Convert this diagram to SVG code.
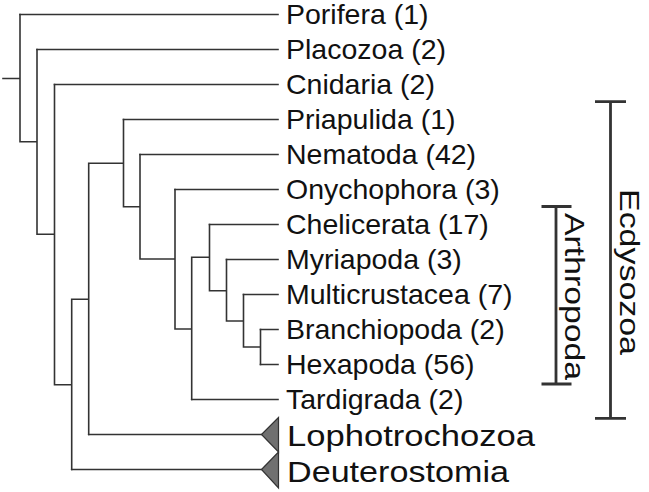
<svg xmlns="http://www.w3.org/2000/svg" width="649" height="492" viewBox="0 0 649 492">
<style>
.br{fill:none;stroke:#333;stroke-width:1.6;stroke-linecap:square}
.bk{fill:none;stroke:#333;stroke-width:2.8}
.lb{font-family:"Liberation Sans",Arial,sans-serif;font-size:28.5px;fill:#111}
.rt{font-family:"Liberation Sans",Arial,sans-serif;font-size:28px;fill:#111}
.big{font-family:"Liberation Sans",Arial,sans-serif;font-size:29.5px;fill:#111}
.cl{fill:#707070;stroke:#333;stroke-width:1.2}
</style>
<rect width="649" height="492" fill="#fff"/>
<g id="connectors">
<path class="br" d="M3,78.5H20M20,14.5V141.7H37M37,49.5V234.3H54.5M54.5,84.5V384.7H71.7M71.7,299.3V469.5M71.7,299.3H88.7M88.7,163.3V434.5M88.7,163.3H123.5M123.5,119.5V206.7H140M140,154.5V259H175M175,189.5V329H191.7M191.7,257.3V399.5M191.7,257.3H209.5M209.5,224.5V290.7H226.5M226.5,259.5V321H243.5M243.5,294.5V347H260.5M260.5,329.5V364.5"/>
<path class="br" d="M20,14.5H278M37,49.5H278M54.5,84.5H278M123.5,119.5H278M140,154.5H278M175,189.5H278M209.5,224.5H278M226.5,259.5H278M243.5,294.5H278M260.5,329.5H278M260.5,364.5H278M191.7,399.5H278M88.7,434.5H262M71.7,469.5H262"/>
</g>
<g id="porifera"><text class="lb" x="286" y="23.7">Porifera (1)</text></g>
<g id="placozoa"><text class="lb" x="286" y="58.7">Placozoa (2)</text></g>
<g id="cnidaria"><text class="lb" x="286" y="93.7">Cnidaria (2)</text></g>
<g id="priapulida"><text class="lb" x="286" y="128.7">Priapulida (1)</text></g>
<g id="nematoda"><text class="lb" x="286" y="163.7">Nematoda (42)</text></g>
<g id="onychophora"><text class="lb" x="286" y="198.7">Onychophora (3)</text></g>
<g id="chelicerata"><text class="lb" x="286" y="233.7">Chelicerata (17)</text></g>
<g id="myriapoda"><text class="lb" x="286" y="268.7">Myriapoda (3)</text></g>
<g id="multicrustacea"><text class="lb" x="286" y="303.7">Multicrustacea (7)</text></g>
<g id="branchiopoda"><text class="lb" x="286" y="338.7">Branchiopoda (2)</text></g>
<g id="hexapoda"><text class="lb" x="286" y="373.7">Hexapoda (56)</text></g>
<g id="tardigrada"><text class="lb" x="286" y="408.7">Tardigrada (2)</text></g>
<g id="lophotrochozoa">
<polygon class="cl" points="261.5,434.5 278.5,417.5 278.5,452"/>
<text class="big" x="287" y="446" textLength="248" lengthAdjust="spacingAndGlyphs">Lophotrochozoa</text>
</g>
<g id="deuterostomia">
<polygon class="cl" points="261.5,469.5 278.5,452 278.5,488"/>
<text class="big" x="287" y="481.5" textLength="222" lengthAdjust="spacingAndGlyphs">Deuterostomia</text>
</g>
<g id="ecdysozoa">
<path class="bk" d="M595,101.7H626M610.5,101.7V418.3M595,418.3H626"/>
<text class="rt" transform="translate(620,189) rotate(90)" textLength="166" lengthAdjust="spacingAndGlyphs">Ecdysozoa</text>
</g>
<g id="arthropoda">
<path class="bk" d="M541.5,206.5H571.5M556,206.5V384M541.5,384H571.5"/>
<text class="rt" transform="translate(565,213) rotate(90)" textLength="167" lengthAdjust="spacingAndGlyphs">Arthropoda</text>
</g>
</svg>
